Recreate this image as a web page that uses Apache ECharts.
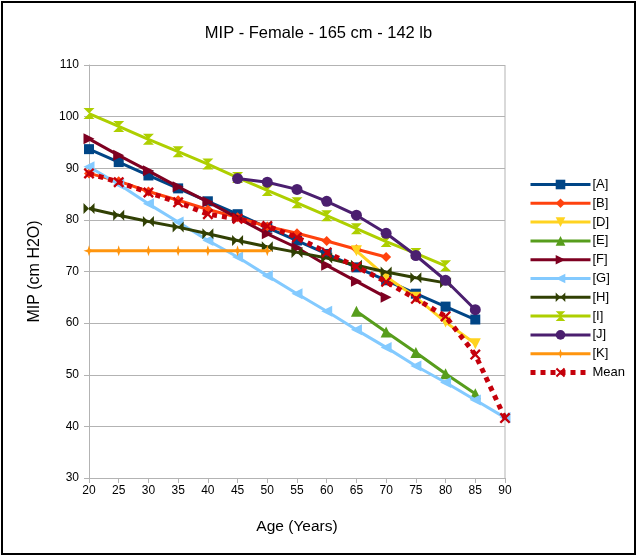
<!DOCTYPE html>
<html>
<head>
<meta charset="utf-8">
<script src="https://cdn.jsdelivr.net/npm/echarts@6/dist/echarts.min.js"></script>
<style>
html,body{margin:0;padding:0;background:#fff;}
#wrap{position:absolute;left:0;top:0;width:631px;height:550px;border:2px solid #000;margin:1px;}
#chart{width:631px;height:550px;}
</style>
</head>
<body>
<div id="wrap"><div id="chart"></div></div>
<script>
const ages = [20,25,30,35,40,45,50,55,60,65,70,75,80,85,90];
const seriesNames = ['[A]','[B]','[D]','[E]','[F]','[G]','[H]','[I]','[J]','[K]','Mean'];
const A = [93.7,91.2,88.6,86.1,83.6,81.1,78.5,76.0,73.4,70.8,68.3,65.7,63.2,60.7,null];
const B = [89.0,87.5,85.5,83.8,82.0,80.5,78.7,77.4,75.9,74.3,72.8,null,null,null,null];
const D = [null,null,null,null,null,null,null,null,null,74.0,69.0,65.0,60.2,56.0,null];
const E = [null,null,null,null,null,null,null,null,null,62.3,58.3,54.3,50.2,46.3,null];
const F = [95.7,92.5,89.5,86.4,83.5,80.4,77.3,74.6,71.2,68.1,65.0,null,null,null,null];
const G = [90.3,86.9,83.1,79.6,76.0,72.8,69.2,65.7,62.3,58.7,55.3,51.7,48.5,45.1,41.7];
const H = [82.2,80.9,79.7,78.6,77.3,76.0,74.8,73.7,72.6,71.2,69.9,68.8,67.8,null,null];
const I = [100.6,98.1,95.6,93.2,90.8,88.2,85.7,83.3,80.8,78.3,75.8,73.5,71.1,null,null];
const J = [null,null,null,null,null,88.0,87.3,85.9,83.6,80.9,77.4,73.1,68.3,62.6,null];
const K = [74.0,74.0,74.0,74.0,74.0,74.0,74.0,null,null,null,null,null,null,null,null];
const Mean = [89.0,87.3,85.3,83.4,81.1,80.2,78.8,76.6,73.7,70.9,68.0,64.7,61.3,53.9,41.6];

const values = [A,B,D,E,F,G,H,I,J,K,Mean];
const colors = ['#004586','#ff420e','#ffd320','#579d1c','#7e0021','#83caff','#314004','#aecf00','#4b1f6f','#ff950e','#c5000b'];
const symbols = [
  'rect','diamond','triangle','triangle','triangle','triangle',
  'path://M0,0 L5,5 L0,10 Z M10,0 L5,5 L10,10 Z',
  'path://M0,0 L10,0 L5,5 Z M0,10 L10,10 L5,5 Z',
  'circle',
  'path://M5,0 L6.2,3.8 L10,5 L6.2,6.2 L5,10 L3.8,6.2 L0,5 L3.8,3.8 Z',
  'path://M0,1.5 L1.5,0 L5,3.5 L8.5,0 L10,1.5 L6.5,5 L10,8.5 L8.5,10 L5,6.5 L1.5,10 L0,8.5 L3.5,5 Z'
];
const rotates = [0,0,180,0,-90,90,0,0,0,0,0];
const sizes = [10,10,11,11,11,11,11,11,11,11,11];

const chart = echarts.init(document.getElementById('chart'));
const series = seriesNames.map((name,i)=>{
  const data = [];
  ages.forEach((a,j)=>{ if(values[i][j]!==null) data.push([a, values[i][j]]); });
  const isMean = name==='Mean';
  return {
    name, type:'line', data,
    symbol: symbols[i], symbolRotate: rotates[i], symbolSize: sizes[i],
    showAllSymbol:true,
    itemStyle:{color:colors[i]},
    lineStyle:{color:colors[i], width: isMean?5:3, type: isMean?[5,5]:'solid'},
    emphasis:{disabled:true},
    animation:false,
    z: 2 + i
  };
});

chart.setOption({
  animation:false,
  textStyle:{fontFamily:'Liberation Sans'},
  title:{text:'MIP - Female - 165 cm - 142 lb', left:'center', top:17,
    textStyle:{fontSize:16.5, fontWeight:'normal', color:'#000', fontFamily:'Liberation Sans'}},
  grid:{left:86, right:129, top:62, bottom:75, containLabel:false},
  legend:{
    orient:'vertical', left:525, top:175, padding:0, itemWidth:60, itemHeight:12, itemGap:5.8,
    data: seriesNames.map((n,i)=>({name:n,
      lineStyle:{width: n==='Mean'?5:3, type: n==='Mean'?[5,5]:'solid', color:colors[i]}})),
    textStyle:{fontSize:13, color:'#000', padding:[0,0,0,-3]},
  },
  xAxis:{
    type:'value', min:20, max:90, interval:5,
    name:'Age (Years)', nameLocation:'middle', nameGap:41,
    nameTextStyle:{fontSize:15.5, color:'#000'},
    axisLine:{show:true, lineStyle:{color:'#b3b3b3'}},
    axisTick:{show:true, length:5, lineStyle:{color:'#b3b3b3'}},
    axisLabel:{fontSize:12, color:'#000', margin:7},
    splitLine:{show:false}
  },
  yAxis:{
    type:'value', min:30, max:110, interval:10,
    name:'MIP (cm H2O)', nameLocation:'middle', nameGap:46, nameRotate:90,
    nameTextStyle:{fontSize:16, color:'#000'},
    axisLine:{show:true, lineStyle:{color:'#b3b3b3'}},
    axisTick:{show:true, length:5, lineStyle:{color:'#b3b3b3'}},
    axisLabel:{fontSize:12, color:'#000', margin:10},
    splitLine:{show:true, lineStyle:{color:'#b3b3b3', width:1}}
  },
  series: series.concat([{
    type:'line', data:[[90,30],[90,110]], symbol:'none', silent:true,
    lineStyle:{color:'#b3b3b3', width:1}, z:1, animation:false, legendHoverLink:false
  }])
});
</script>
</body>
</html>
